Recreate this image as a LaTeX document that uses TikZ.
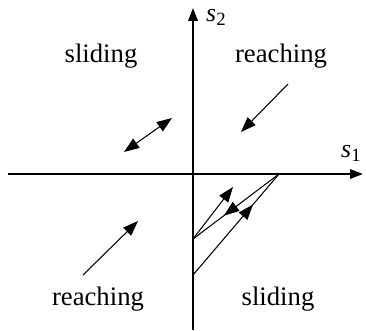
\documentclass[tikz,border=0pt]{standalone}
\usepackage{fontspec}
\setmainfont{Liberation Serif}
\usetikzlibrary{arrows.meta,decorations.markings}

\tikzset{
  axis/.style={line width=1.8pt,-{Triangle[length=11pt,width=8pt]}},
  vec/.style={line width=0.9pt,-{Triangle[length=13pt,width=9.5pt]}},
  dvec/.style={line width=0.9pt,{Triangle[length=13pt,width=9.5pt]}-{Triangle[length=13pt,width=9.5pt]}},
  midarrow/.style={line width=0.9pt,decoration={markings,
      mark=at position #1 with {\arrow{Triangle[length=13pt,width=9.5pt]}}},
    postaction={decorate}},
  region/.style={font=\fontsize{22.8}{26}\selectfont,anchor=base,inner sep=0pt},
  axlabel/.style={font=\fontsize{22}{26}\selectfont,anchor=base west,inner sep=0pt}
}

\begin{document}
\begin{tikzpicture}[x=0.03cm,y=-0.03cm]
  \useasboundingbox (0,0) rectangle (366,330);
  % axes
  \coordinate (W) at (8,174);
  \coordinate (E) at (363,174);
  \coordinate (S) at (193,330);
  \coordinate (N) at (193,8);
  \draw[axis] (W) -- (E);
  \draw[axis] (S) -- (N);
  \node[axlabel] (s1) at (341,157) {\textit{s}\raisebox{-0.35ex}{\fontsize{16}{18}\selectfont 1}};
  \node[axlabel] (s2) at (206,21) {\textit{s}\raisebox{-0.35ex}{\fontsize{16}{18}\selectfont 2}};
  % region labels
  \node[region] (slidA) at (101,62) {sliding};
  \node[region] (reachA) at (281,62) {reaching};
  \node[region] (reachB) at (98,305) {reaching};
  \node[region] (slidB) at (278,305) {sliding};
  % quadrant arrows
  \coordinate (da) at (124,152);
  \coordinate (db) at (172,118);
  \draw[dvec] (da) -- (db);
  \coordinate (ra) at (288,84);
  \coordinate (rb) at (241,132);
  \draw[vec] (ra) -- (rb);
  \coordinate (la) at (83,275);
  \coordinate (lb) at (138,221);
  \draw[vec] (la) -- (lb);
  % trajectory
  \coordinate (P) at (279,174);
  \coordinate (Q) at (193,239);
  \coordinate (R) at (193,275);
  \coordinate (T) at (233,187);
  \draw[midarrow=0.7] (R) -- (P);
  \draw[midarrow=0.64] (P) -- (Q);
  \draw[vec] (Q) -- (T);
\end{tikzpicture}
\end{document}
